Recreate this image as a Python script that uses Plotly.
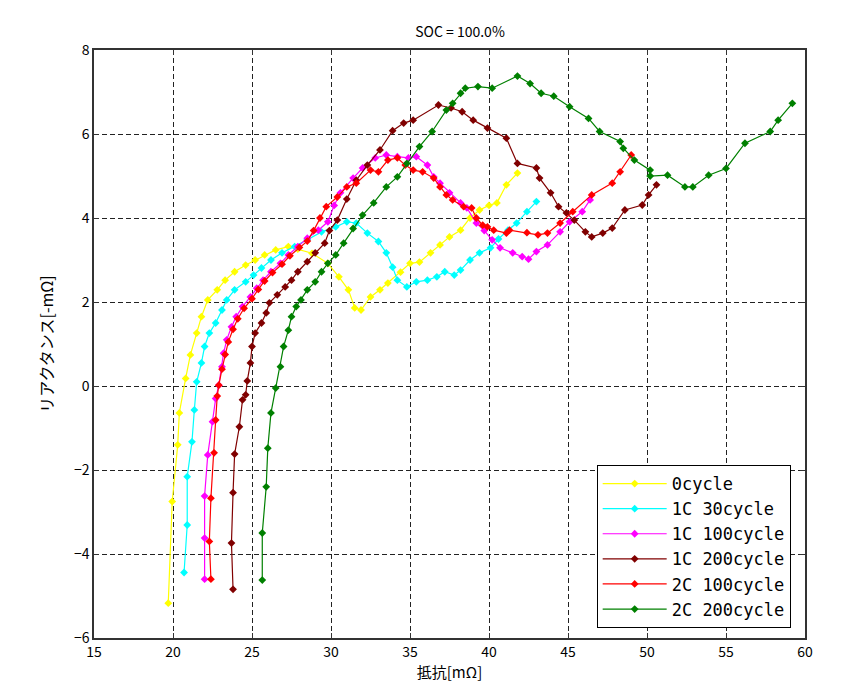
import plotly.graph_objects as go

# ---- data ----
names = ["0cycle", "1C 30cycle", "1C 100cycle", "1C 200cycle", "2C 100cycle", "2C 200cycle"]
colors = ["#FFFF00", "#00FFFF", "#FF00FF", "#800000", "#FF0000", "#008000"]

c0_x = [19.7, 19.95, 20.3, 20.4, 20.8, 21.1, 21.5, 21.8, 22.2, 22.8, 23.3, 23.9, 24.6, 25.2, 25.8, 26.5, 27.3, 27.9,
        28.8, 29.8, 30.5, 31.1, 31.5, 31.9, 32.5, 33.1, 33.6, 34.4, 35.0, 35.6, 36.3, 36.9, 37.5, 38.2, 38.8, 39.4,
        40.0, 40.5, 41.1, 41.8]
c0_y = [-5.17, -2.75, -1.4, -0.64, 0.18, 0.74, 1.26, 1.65, 2.05, 2.29, 2.52, 2.72, 2.88, 3.0, 3.12, 3.24, 3.32, 3.26,
        3.16, 2.92, 2.6, 2.29, 1.86, 1.81, 2.12, 2.29, 2.45, 2.71, 2.92, 2.95, 3.17, 3.36, 3.55, 3.71, 4.0, 4.19,
        4.3, 4.36, 4.79, 5.07]

c30_x = [20.7, 20.9, 20.9, 21.2, 21.35, 21.5, 21.8, 22.0, 22.3, 22.7, 23.1, 23.4, 23.9, 24.6, 25.1, 25.6, 26.2, 26.9,
         27.7, 28.5, 29.4, 30.3, 31.0, 31.6, 32.3, 33.0, 33.5, 33.9, 34.2, 34.8, 35.4, 36.1, 36.7, 37.2, 37.8, 38.2,
         38.8, 39.4, 40.1, 40.6, 41.2, 41.75, 42.4, 43.0]
c30_y = [-4.44, -3.31, -2.16, -1.33, -0.57, 0.1, 0.55, 0.94, 1.26, 1.5, 1.81, 2.05, 2.29, 2.48, 2.64, 2.81, 3.0, 3.17,
         3.32, 3.48, 3.67, 3.79, 3.91, 3.88, 3.64, 3.44, 3.17, 2.83, 2.52, 2.36, 2.48, 2.52, 2.6, 2.72, 2.64, 2.76,
         3.0, 3.17, 3.29, 3.5, 3.71, 3.88, 4.15, 4.39]

c1c100_x = [22.0, 22.0, 22.0, 22.2, 22.5, 22.7, 22.9, 23.1, 23.2, 23.4, 23.7, 24.0, 24.4, 24.9, 25.3, 25.7, 26.2,
            26.8, 27.3, 27.9, 28.5, 29.2, 29.8, 30.2, 30.6, 31.4, 32.0, 32.8, 33.5, 34.2, 34.9, 35.4, 36.1, 36.5,
            36.9, 37.5, 38.2, 38.6, 39.2, 39.7, 40.2, 40.7, 41.5, 42.1, 42.5, 43.0, 43.7, 44.5, 45.1, 45.9, 46.4]
c1c100_y = [-4.6, -3.62, -2.62, -1.64, -0.85, -0.3, 0.02, 0.46, 0.78, 1.1, 1.41, 1.65, 1.89, 2.12, 2.33, 2.52, 2.72,
            2.92, 3.12, 3.32, 3.52, 3.71, 3.91, 4.3, 4.6, 4.95, 5.19, 5.43, 5.5, 5.46, 5.43, 5.46, 5.26, 4.98,
            4.83, 4.6, 4.36, 4.24, 3.88, 3.7, 3.48, 3.29, 3.17, 3.08, 3.02, 3.2, 3.36, 3.67, 3.91, 4.15, 4.43]

c1c200_x = [23.8, 23.7, 23.8, 23.9, 24.2, 24.4, 24.6, 24.7, 24.9, 25.0, 25.2, 25.6, 25.9, 26.1, 26.6, 27.1, 27.5,
            27.9, 28.5, 29.0, 29.6, 29.9, 30.4, 31.0, 31.6, 32.3, 33.1, 33.9, 34.6, 35.2, 36.8, 37.6, 38.3, 39.0,
            39.9, 41.1, 41.8, 43.0, 43.2, 43.9, 44.4, 44.9, 45.4, 46.1, 46.5, 47.2, 47.8, 48.6, 49.7, 50.1, 50.6]
c1c200_y = [-4.84, -3.74, -2.54, -1.62, -0.97, -0.33, -0.21, 0.12, 0.55, 0.94, 1.26, 1.5, 1.74, 1.98, 2.17, 2.36,
            2.52, 2.72, 2.96, 3.17, 3.4, 3.7, 3.95, 4.45, 4.9, 5.26, 5.62, 6.08, 6.26, 6.33, 6.69, 6.62, 6.53, 6.33,
            6.14, 5.9, 5.3, 5.19, 4.95, 4.6, 4.27, 4.12, 3.95, 3.67, 3.55, 3.64, 3.76, 4.19, 4.31, 4.55, 4.79]

c2c100_x = [22.4, 22.3, 22.4, 22.6, 22.7, 22.8, 22.9, 23.1, 23.3, 23.5, 23.8, 24.1, 24.5, 25.0, 25.4, 25.8, 26.3,
            26.9, 27.4, 28.0, 28.5, 28.9, 29.3, 29.7, 30.4, 31.0, 31.6, 32.5, 33.0, 33.6, 34.2, 34.7, 35.2, 35.8,
            36.5, 36.9, 37.3, 37.7, 38.4, 38.9, 39.2, 39.6, 39.9, 40.3, 41.1, 41.3, 42.4, 43.1, 43.7, 44.5, 45.3,
            46.5, 47.8, 48.3, 49.0]
c2c100_y = [-4.6, -3.7, -2.67, -1.59, -0.81, -0.24, 0.02, 0.4, 0.75, 1.05, 1.35, 1.6, 1.85, 2.08, 2.3, 2.5, 2.7,
            2.9, 3.1, 3.3, 3.45, 3.7, 4.0, 4.27, 4.5, 4.74, 4.83, 5.14, 5.1, 5.38, 5.43, 5.26, 5.14, 5.1,
            4.95, 4.74, 4.55, 4.43, 4.27, 4.24, 4.0, 3.83, 3.79, 3.71, 3.64, 3.71, 3.65, 3.6, 3.64, 3.88, 4.15,
            4.55, 4.83, 5.1, 5.5]

c2c200_x = [25.65, 25.65, 25.9, 26.0, 26.2, 26.5, 26.8, 27.0, 27.3, 27.5, 27.8, 28.1, 28.5, 29.0, 29.4, 29.8, 30.3,
            30.8, 31.4, 32.0, 32.7, 33.5, 34.2, 34.8, 35.6, 36.4, 37.3, 37.7, 38.2, 38.5, 39.3, 40.2, 41.8, 42.6,
            43.3, 44.1, 45.1, 46.3, 47.0, 48.3, 48.5, 49.2, 50.2, 50.2, 51.3, 52.4, 52.9, 53.9, 55.0, 56.2, 57.8,
            58.3, 59.2]
c2c200_y = [-4.62, -3.5, -2.4, -1.48, -0.64, -0.05, 0.46, 0.94, 1.33, 1.65, 1.89, 2.05, 2.29, 2.48, 2.72, 2.92, 3.12,
            3.4, 3.75, 4.07, 4.36, 4.74, 4.98, 5.3, 5.7, 6.06, 6.57, 6.73, 6.97, 7.09, 7.13, 7.09, 7.38, 7.2,
            6.97, 6.9, 6.65, 6.37, 6.06, 5.82, 5.66, 5.38, 5.14, 5.0, 5.02, 4.74, 4.74, 5.02, 5.18, 5.78, 6.06,
            6.33, 6.73]

series_x = [c0_x, c30_x, c1c100_x, c1c200_x, c2c100_x, c2c200_x]
series_y = [c0_y, c30_y, c1c100_y, c1c200_y, c2c100_y, c2c200_y]

x_ticks = [15, 20, 25, 30, 35, 40, 45, 50, 55, 60]
y_ticks = [-6, -4, -2, 0, 2, 4, 6, 8]

title_text = "SOC = 100.0%"
x_title = "抵抗[mΩ]"
y_title = "リアクタンス[-mΩ]"

FONT = "Noto Sans CJK JP"
LEG_FONT = "DejaVu Sans Mono"

fig = go.Figure()
for i, (nm, col, xs, ys) in enumerate(zip(names, colors, series_x, series_y)):
    fig.add_trace(go.Scatter(
        x=xs, y=ys, name=nm, mode="lines+markers", legendgroup=f"g{i}",
        line=dict(color=col, width=1.2),
        marker=dict(symbol="diamond", size=6, color=col),
    ))

axis_common = dict(
    showline=True, linecolor="#333", linewidth=1.5, mirror="ticks",
    ticks="inside", ticklen=5, tickcolor="#333",
    showgrid=True, gridcolor="#222", gridwidth=1, griddash="5px,3px",
    zeroline=False, automargin=False,
    tickfont=dict(family=FONT, size=14, color="black"),
)

fig.update_xaxes(range=[15, 60], tickvals=x_ticks, **axis_common,
                 title=dict(text=x_title, font=dict(family=FONT, size=15, color="black"), standoff=0))
fig.update_yaxes(range=[-6, 8], tickvals=y_ticks, **axis_common,
                 title=dict(text=y_title, font=dict(family=FONT, size=16, color="black"), standoff=16))

# page body has an 8px margin, so the figure is sized to fit inside the window
W, H = 846, 674
fig.update_layout(
    width=W, height=H,
    margin=dict(l=86, r=49, t=42, b=44),
    paper_bgcolor="white", plot_bgcolor="white",
    title=dict(text=title_text, x=452 / W, xanchor="center", y=1 - 24 / H, yanchor="middle",
               yref="container", font=dict(family=FONT, size=14, color="black")),
    font=dict(family=FONT, color="black"),
    legend=dict(x=0.707, y=0.017, xanchor="left", yanchor="bottom",
                bgcolor="white", bordercolor="black", borderwidth=1,
                font=dict(family=LEG_FONT, size=17, color="black"),
                tracegroupgap=0, itemwidth=64),
    showlegend=True,
)

fig.write_html("out.html")
